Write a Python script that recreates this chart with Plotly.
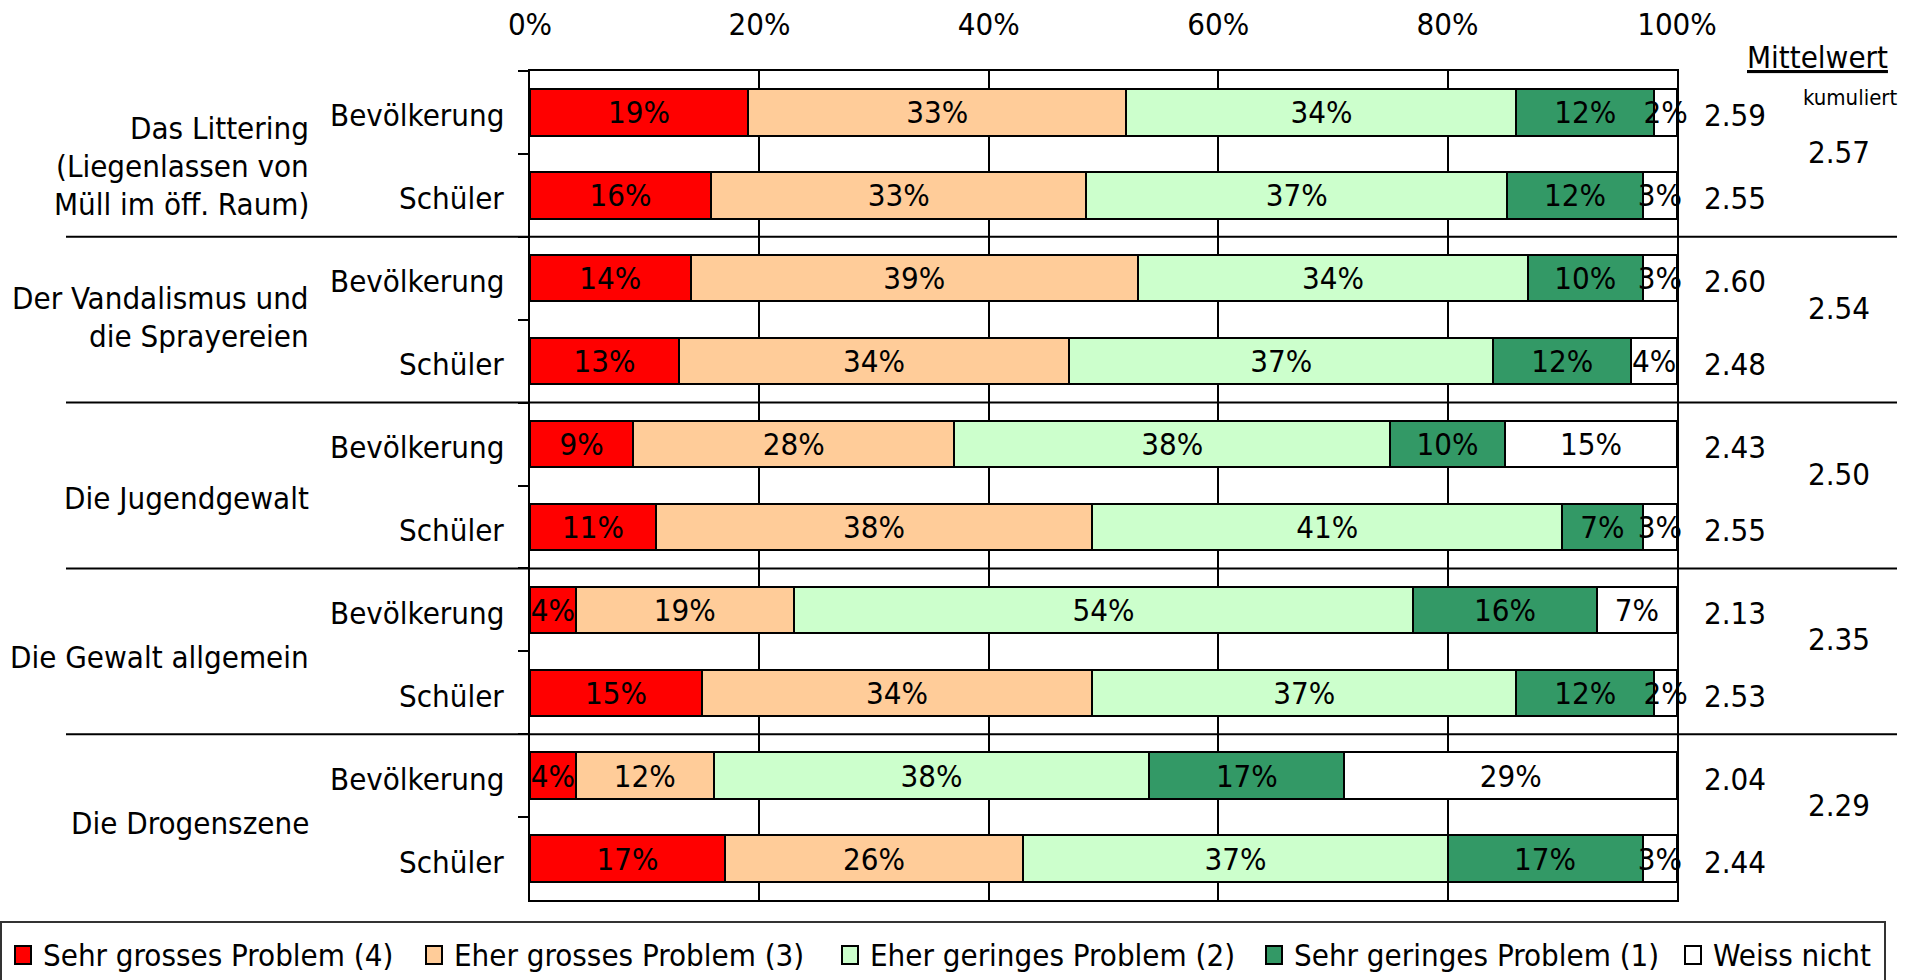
import plotly.graph_objects as go

# ---- data ----
topics = [
    "Das Littering<br>(Liegenlassen von<br>Müll im öff. Raum)",
    "Der Vandalismus und<br>die Sprayereien",
    "Die Jugendgewalt",
    "Die Gewalt allgemein",
    "Die Drogenszene",
]
groups = ["Bevölkerung", "Schüler"]

series_names = [
    "Sehr grosses Problem (4)",
    "Eher grosses Problem (3)",
    "Eher geringes Problem (2)",
    "Sehr geringes Problem (1)",
    "Weiss nicht",
]
series_colors = ["#FF0000", "#FFCC99", "#CCFFCC", "#339966", "#FFFFFF"]

# values in percent, rows in order: topic x group
sehr_gross = [19, 15.8, 14, 13, 9, 11, 4, 15, 4, 17]
eher_gross = [33, 32.7, 39, 34, 28, 38, 19, 34, 12, 26]
eher_gering = [34, 36.7, 34, 37, 38, 41, 54, 37, 38, 37]
sehr_gering = [12, 11.8, 10, 12, 10, 7, 16, 12, 17, 17]
weiss_nicht = [2, 3, 3, 4, 15, 3, 7, 2, 29, 3]

mittelwert = [2.59, 2.55, 2.60, 2.48, 2.43, 2.55, 2.13, 2.53, 2.04, 2.44]
kumuliert = [2.57, 2.54, 2.50, 2.35, 2.29]

x_ticks = [0, 20, 40, 60, 80, 100]

# ---- figure ----
FONT = "DejaVu Sans Condensed, Liberation Sans, Arial, sans-serif"
FS = 31

cats = [f"{t.split('<br>')[0]} | {g}" for t in topics for g in groups]
all_series = [sehr_gross, eher_gross, eher_gering, sehr_gering, weiss_nicht]

fig = go.Figure()
for name, color, vals in zip(series_names, series_colors, all_series):
    fig.add_trace(go.Bar(
        y=cats, x=vals, name=name, orientation="h",
        marker=dict(color=color, line=dict(color="black", width=2)),
        text=[f"{v:.0f}%" for v in vals],
        textposition="inside", insidetextanchor="middle", textangle=0,
        textfont=dict(color="black", size=FS, family=FONT),
        constraintext="none", cliponaxis=False,
        hoverinfo="skip", showlegend=False,
    ))

W, H = 1909, 980
L, R, T, B = 530, 232, 71, 80
pw = W - L - R
ph = H - T - B


def px2paper(xpx):
    return (xpx - L) / pw


def py2paper(ypx):
    return 1 - (ypx - T) / ph


annotations = []
for i, c in enumerate(cats):
    annotations.append(dict(
        x=px2paper(506), xref="paper", y=i, yref="y", text=groups[i % 2],
        xanchor="right", yanchor="middle", showarrow=False, yshift=-3,
        font=dict(size=FS, family=FONT, color="black")))
    annotations.append(dict(
        x=px2paper(1702), xref="paper", y=i, yref="y", text=f"{mittelwert[i]:.2f}",
        xanchor="left", yanchor="middle", showarrow=False, yshift=-3,
        font=dict(size=FS, family=FONT, color="black")))

# topic labels: one annotation per line, tighter line spacing as in reference
topic_shift = [-12, 3, -12, -6, -6]
LINE_H = 38
for g, t in enumerate(topics):
    lines = t.split("<br>")
    n = len(lines)
    for k, line in enumerate(lines):
        off = (k - (n - 1) / 2) * LINE_H
        annotations.append(dict(
            x=px2paper(311), xref="paper", y=2 * g + 0.5, yref="y", text=line,
            xanchor="right", yanchor="middle", align="right", showarrow=False,
            yshift=topic_shift[g] - off,
            font=dict(size=FS, family=FONT, color="black")))
    annotations.append(dict(
        x=px2paper(1839), xref="paper", y=2 * g + 0.5, yref="y", text=f"{kumuliert[g]:.2f}",
        xanchor="center", yanchor="middle", showarrow=False, yshift=(2 if g == 0 else 12),
        font=dict(size=FS, family=FONT, color="black")))

annotations.append(dict(
    x=px2paper(1817), xref="paper", y=py2paper(57), yref="paper",
    text="<u>Mittelwert</u>", xanchor="center", yanchor="middle", showarrow=False,
    font=dict(size=FS, family=FONT, color="black")))
annotations.append(dict(
    x=px2paper(1850), xref="paper", y=py2paper(97), yref="paper",
    text="kumuliert", xanchor="center", yanchor="middle", showarrow=False,
    font=dict(size=22, family=FONT, color="black")))

shapes = []
for b in [1.5, 3.5, 5.5, 7.5]:
    shapes.append(dict(type="line", xref="paper", yref="y",
                       x0=px2paper(66), x1=px2paper(1897), y0=b, y1=b,
                       line=dict(color="black", width=2)))

# legend (drawn manually so it spans the full figure width in one row)
leg_sq_left = [15, 426, 842, 1266, 1685]
leg_y = 955
shapes.append(dict(type="rect", xref="paper", yref="paper",
                   x0=px2paper(1), x1=px2paper(1885), y0=py2paper(922), y1=py2paper(1010),
                   line=dict(color="#333333", width=2), fillcolor="white", layer="below"))
for name, color, xl in zip(series_names, series_colors, leg_sq_left):
    shapes.append(dict(type="rect", xref="paper", yref="paper",
                       x0=px2paper(xl), x1=px2paper(xl + 16),
                       y0=py2paper(leg_y + 9), y1=py2paper(leg_y - 9),
                       line=dict(color="black", width=2), fillcolor=color))
    annotations.append(dict(
        x=px2paper(xl + 26), xref="paper", y=py2paper(leg_y), yref="paper",
        text=name, xanchor="left", yanchor="middle", showarrow=False,
        font=dict(size=FS, family=FONT, color="black")))

fig.update_layout(
    width=W, height=H,
    margin=dict(l=L, r=R, t=T, b=B, autoexpand=False),
    barmode="stack", bargap=0.44,
    plot_bgcolor="white", paper_bgcolor="white",
    font=dict(family=FONT, size=FS, color="black"),
    uniformtext=dict(minsize=FS, mode="show"),
    xaxis=dict(
        side="top", range=[0, 100], tickvals=x_ticks,
        ticktext=[f"{v}%" for v in x_ticks],
        showgrid=True, gridcolor="black", gridwidth=1.5,
        showline=True, linecolor="black", linewidth=2, mirror=True,
        ticks="", ticklabelstandoff=22, zeroline=False,
        tickfont=dict(size=FS, family=FONT, color="black"),
        fixedrange=True,
    ),
    yaxis=dict(
        type="category", categoryorder="array", categoryarray=cats,
        range=[9.5, -0.5], showticklabels=False, showgrid=False,
        ticks="outside", tickson="boundaries", ticklen=10, tickwidth=2, tickcolor="black",
        showline=True, linecolor="black", linewidth=2, mirror=True,
        zeroline=False, fixedrange=True,
    ),
    annotations=annotations,
    shapes=shapes,
    showlegend=False,
)

fig.write_html("out.html", config={"displayModeBar": False},
               post_script="document.body.style.margin='0';")
